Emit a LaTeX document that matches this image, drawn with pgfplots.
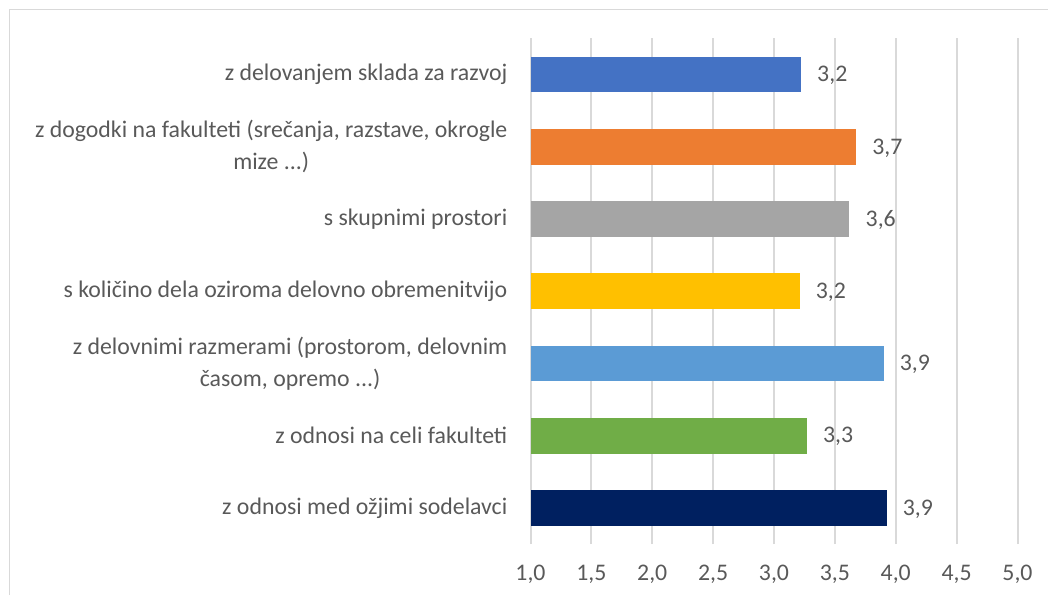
\documentclass[border=0pt]{standalone}
\usepackage{pgfplots}
\pgfplotsset{compat=1.18}
\usepackage{fontspec}
\setmainfont{Carlito}
\definecolor{txt}{HTML}{595959}
\definecolor{gridc}{HTML}{D9D9D9}
\definecolor{c1}{HTML}{4472C4}
\definecolor{c2}{HTML}{ED7D31}
\definecolor{c3}{HTML}{A5A5A5}
\definecolor{c4}{HTML}{FFC000}
\definecolor{c5}{HTML}{5B9BD5}
\definecolor{c6}{HTML}{70AD47}
\definecolor{c7}{HTML}{002060}
\newcommand{\ddd}{...}
\begin{document}
\begin{tikzpicture}[x=1pt,y=1pt]
\path[use as bounding box] (0,0) rectangle (1048,595);
\draw[gridc, line width=1.2pt] (9.5,0) -- (9.5,585.5) -- (1048,585.5);
\begin{axis}[
  at={(530.5pt,51pt)}, anchor=south west,
  scale only axis, width=487pt, height=505.5pt,
  xmin=1, xmax=5, ymin=0.5, ymax=7.5,
  xtick={1,1.5,2,2.5,3,3.5,4,4.5,5},
  ytick={1,2,3,4,5,6,7},
  yticklabels={{z odnosi med ožjimi sodelavci},
               {z odnosi na celi fakulteti},
               {z delovnimi razmerami (prostorom, delovnim\\časom, opremo \ddd)},
               {s količino dela oziroma delovno obremenitvijo},
               {s skupnimi prostori},
               {z dogodki na fakulteti (srečanja, razstave, okrogle\\mize \ddd)},
               {z delovanjem sklada za razvoj}},
  /pgf/number format/assume math mode=true,
  xticklabel={\pgfmathprintnumber[fixed,fixed zerofill,precision=1,use comma]{\tick}},
  axis line style={draw=none},
  major tick length=0pt,
  xmajorgrids,
  major grid style={gridc, line width=2pt},
  tick label style={font=\fontsize{23.8}{32}\selectfont, text=txt, inner sep=0pt},
  yticklabel style={anchor=east, align=center, xshift=-23pt},
  xticklabel style={anchor=center, yshift=-30pt},
  xbar, bar width=35.7pt, bar shift=0pt,
  point meta=x,
  nodes near coords={\pgfmathprintnumber[fixed,fixed zerofill,precision=1,use comma]{\pgfplotspointmeta}},
  nodes near coords style={anchor=west, inner sep=0pt, xshift=16pt, yshift=-1pt, font=\fontsize{23.8}{32}\selectfont, text=txt},
]
\addplot[fill=c7, draw=none] coordinates {(3.925,1)};
\addplot[fill=c6, draw=none] coordinates {(3.27,2)};
\addplot[fill=c5, draw=none] coordinates {(3.90,3)};
\addplot[fill=c4, draw=none] coordinates {(3.21,4)};
\addplot[fill=c3, draw=none] coordinates {(3.62,5)};
\addplot[fill=c2, draw=none] coordinates {(3.674,6)};
\addplot[fill=c1, draw=none] coordinates {(3.222,7)};
\end{axis}
\end{tikzpicture}
\end{document}
